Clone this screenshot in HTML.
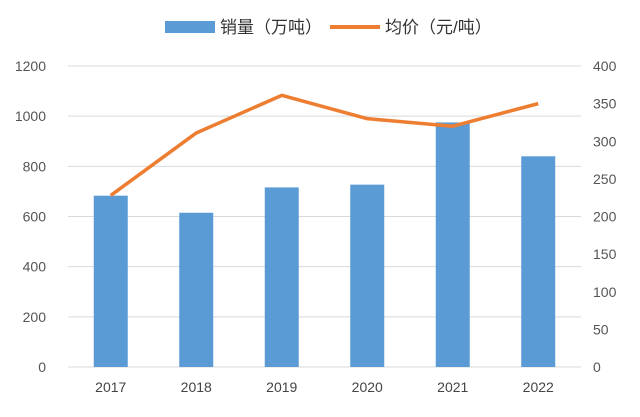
<!DOCTYPE html>
<html><head><meta charset="utf-8"><style>
body{margin:0;background:#fff;width:640px;height:412px;overflow:hidden;font-family:"Liberation Sans","Noto Sans CJK SC",sans-serif}
</style></head><body>
<svg id="chart" width="640" height="412" xmlns="http://www.w3.org/2000/svg">
<g id="grid"></g><g id="bars"></g><g id="line"></g><g id="axes"></g>
<g>
<rect x="165" y="21" width="50" height="12" fill="#5b9bd5"/>
<text x="220" y="33" font-size="17" fill="#333">销量（万吨）</text>
<line x1="330" y1="27" x2="380" y2="27" stroke="#ed7d31" stroke-width="4"/>
<text x="385" y="33" font-size="17" fill="#333">均价（元/吨）</text>
</g>
</svg>
<script>
const categories=["2017","2018","2019","2020","2021","2022"];
const salesValues=[683,615,716,727,975,840];
const priceValues=[228,311,361,330,320,350];
const leftTicks=[0,200,400,600,800,1000,1200];
const rightTicks=[0,50,100,150,200,250,300,350,400];
const NS="http://www.w3.org/2000/svg";
const x0=68,x1=581,yB=367,yT=66;
const yL=v=>yB-(v/1200)*(yB-yT);
const yR=v=>yB-(v/400)*(yB-yT);
const step=(x1-x0)/categories.length;
const xC=i=>x0+step*(i+0.5);
function mk(tag,attrs,parent){const e=document.createElementNS(NS,tag);for(const k in attrs)e.setAttribute(k,attrs[k]);document.getElementById(parent).appendChild(e);return e;}
leftTicks.forEach(t=>{
 const l=mk('line',{x1:x0,x2:x1,y1:yL(t),y2:yL(t),stroke:'#d9d9d9','stroke-width':1},'grid');
 
 
 const tx=mk('text',{x:46,y:yL(t)+5,'text-anchor':'end','font-size':14,fill:'#555'},'axes');
 tx.textContent=t;
 
 
});
rightTicks.forEach(t=>{
 const tx=mk('text',{x:593,y:yR(t)+5,'font-size':14,fill:'#555'},'axes');
 tx.textContent=t;
 
 
});
categories.forEach((c,i)=>{
 const b=mk('rect',{x:xC(i)-17,y:yL(salesValues[i]),width:34,height:yB-yL(salesValues[i]),fill:'#5b9bd5'},'bars');
 
 
 const tx=mk('text',{x:xC(i),y:392,'text-anchor':'middle','font-size':14,fill:'#444'},'axes');
 tx.textContent=c;
 
 
});
const pl=mk('polyline',{points:priceValues.map((v,i)=>xC(i)+','+yR(v)).join(' '),fill:'none',stroke:'#ed7d31','stroke-width':3.5,'stroke-linejoin':'round'},'line');


</script>
</body></html>
